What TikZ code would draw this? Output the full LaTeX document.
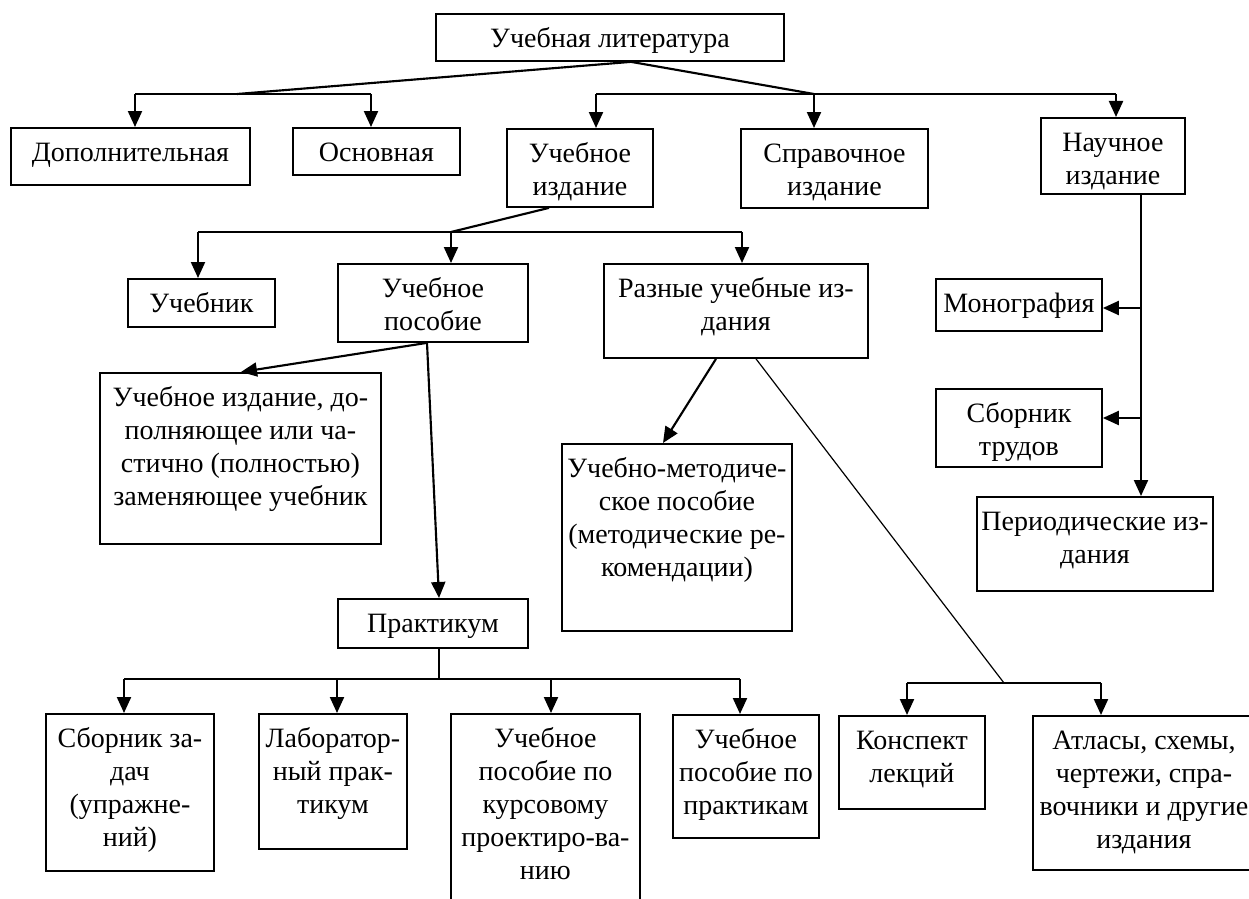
\documentclass[tikz,border=0pt]{standalone}
\usepackage{fontspec}
\setmainfont{Liberation Serif}
\usetikzlibrary{arrows.meta}
\newcommand\bx[6]{\node[box, minimum width={(#4-#2)*0.75pt}, minimum height={(#5-#3)*0.75pt}, label={[lab]north:{\strut #6}}] (#1) at (#2,#3) {};}
\begin{document}
\begin{tikzpicture}[x=0.75pt,y=-0.75pt,
  box/.style={draw, line width=1.4pt, inner sep=0pt, anchor=north west},
  lab/.style={anchor=north, yshift=-8.2pt, inner sep=0pt, align=center, font=\fontsize{21}{24.75}\selectfont},
  ln/.style={line width=1.6pt},
  thinln/.style={line width=0.9pt},
  arr/.style={ln, -{Triangle[length=12pt,width=10.5pt]}}]
\useasboundingbox (0,0) rectangle (1249,899);
\clip (0,0) rectangle (1249,899);
% boxes
\bx{top}{435}{13}{783}{60}{Учебная литература}
\bx{dop}{10}{127}{249}{184}{Дополнительная}
\bx{osn}{292}{127}{459}{174}{Основная}
\bx{uchizd}{506}{128}{652}{206}{Учебное\\издание}
\bx{sprav}{740}{128}{927}{207}{Справочное\\издание}
\bx{nauch}{1040}{117}{1184}{193}{Научное\\издание}
\bx{uchebnik}{127}{278}{274}{326}{Учебник}
\bx{posob}{337}{263}{527}{341}{Учебное\\пособие}
\bx{raznye}{603}{263}{867}{357}{Разные учебные из-\\дания}
\bx{dopoln}{99}{372}{380}{543}{Учебное издание, до-\\полняющее или ча-\\стично (полностью)\\заменяющее учебник}
\bx{metod}{561}{443}{791}{630}{Учебно-методиче-\\ское пособие\\(методические ре-\\комендации)}
\bx{monogr}{935}{278}{1101}{330}{Монография}
\bx{sbtrud}{935}{388}{1101}{466}{Сборник\\трудов}
\bx{period}{976}{496}{1212}{590}{Периодические из-\\дания}
\bx{prakt}{337}{598}{527}{647}{Практикум}
\bx{sbzad}{45}{713}{213}{870}{Сборник за-\\дач\\(упражне-\\ний)}
\bx{lab}{258}{713}{406}{848}{Лаборатор-\\ный прак-\\тикум}
\bx{kurs}{450}{713}{639}{930}{Учебное\\пособие по\\курсовому\\проектиро-ва-\\нию}
\bx{praktik}{672}{714}{818}{837}{Учебное\\пособие по\\практикам}
\bx{konsp}{838}{715}{984}{808}{Конспект\\лекций}
\bx{atlas}{1032}{715}{1254}{869}{Атласы, схемы,\\чертежи, спра-\\вочники и другие\\издания}
% level 1
\coordinate (ja) at (top.south -| 631,0);
\coordinate (jl) at (237,94);
\coordinate (jr) at (814,94);
\coordinate (b1) at (135,94);
\coordinate (b2) at (371,94);
\coordinate (b3) at (596,94);
\coordinate (b5) at (1116,94);
\draw[ln] (ja) -- (jl);
\draw[ln] (ja) -- (jr);
\draw[ln] (b1) -- (b2);
\draw[ln] (b3) -- (b5);
\draw[arr] (b1) -- (b1 |- dop.north);
\draw[arr] (b2) -- (b2 |- osn.north);
\draw[arr] (b3) -- (b3 |- uchizd.north);
\draw[arr] (jr) -- (jr |- sprav.north);
\draw[arr] (b5) -- (b5 |- nauch.north);
% level 2
\coordinate (ka) at (uchizd.south -| 549,0);
\coordinate (kj) at (451,232);
\coordinate (c1) at (198,232);
\coordinate (c3) at (742,232);
\draw[ln] (ka) -- (kj);
\draw[ln] (c1) -- (c3);
\draw[arr] (c1) -- (c1 |- uchebnik.north);
\draw[arr] (kj) -- (kj |- posob.north);
\draw[arr] (c3) -- (c3 |- raznye.north);
% posobie
\coordinate (pa) at (posob.south -| 427,0);
\draw[arr] (pa) -- (dopoln.north -| 241,0);
\draw[arr] (pa) -- (prakt.north -| 439,0);
% raznye
\draw[arr] (raznye.south -| 716,0) -- (metod.north -| 663,0);
\coordinate (rj) at (1004,683);
\draw[thinln] (raznye.south -| 756,0) -- (rj);
\coordinate (d1) at (907,683);
\coordinate (d2) at (1101,683);
\draw[ln] (d1) -- (d2);
\draw[arr] (d1) -- (d1 |- konsp.north);
\draw[arr] (d2) -- (d2 |- atlas.north);
% nauchnoe
\draw[arr] (nauch.south -| 1141,0) -- (period.north -| 1141,0);
\draw[arr] (1141,308) -- (monogr.east |- 0,308);
\draw[arr] (1141,418) -- (sbtrud.east |- 0,418);
% praktikum
\coordinate (pj) at (439,679);
\coordinate (e1) at (124,679);
\coordinate (e2) at (337,679);
\coordinate (e3) at (551,679);
\coordinate (e4) at (740,679);
\draw[thinln] (prakt.south -| pj) -- (pj);
\draw[ln] (e1) -- (e4);
\draw[arr] (e1) -- (e1 |- sbzad.north);
\draw[arr] (e2) -- (e2 |- lab.north);
\draw[arr] (e3) -- (e3 |- kurs.north);
\draw[arr] (e4) -- (e4 |- praktik.north);
\end{tikzpicture}
\end{document}
